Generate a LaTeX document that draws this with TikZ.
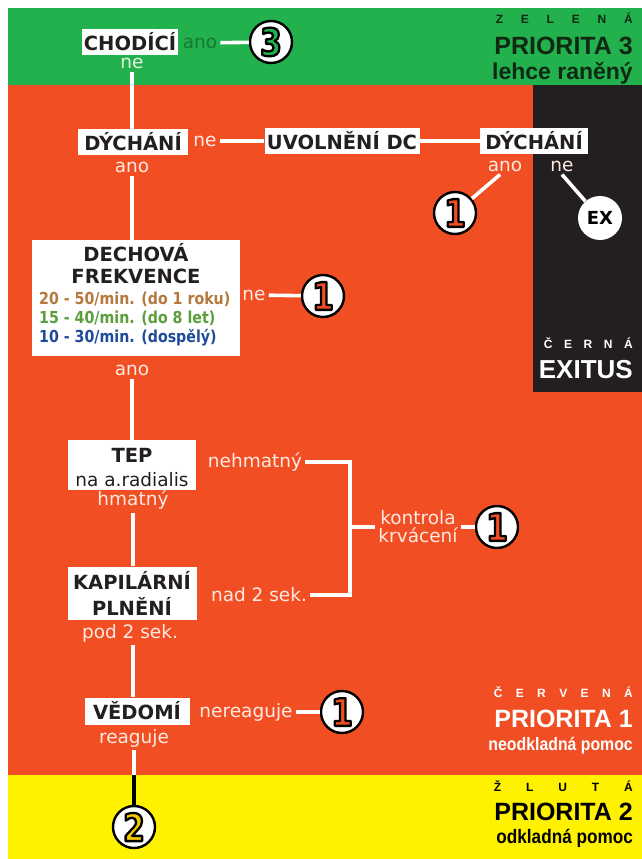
\documentclass[tikz,border=0pt]{standalone}
\usepackage{fontspec}
\setmainfont{DejaVu Sans}
\newfontfamily\condf[FakeStretch=0.86]{DejaVu Sans}
\newfontfamily\digf[FakeStretch=0.82]{DejaVu Sans}
\newfontfamily\arlf{Liberation Sans}
\newfontfamily\narf[FakeStretch=0.88]{Liberation Sans}
\definecolor{zel}{RGB}{34,177,76}
\definecolor{cerv}{RGB}{241,78,35}
\definecolor{cern}{RGB}{35,31,32}
\definecolor{zlu}{RGB}{255,242,0}
\definecolor{boxc}{RGB}{35,31,32}
\definecolor{labc}{RGB}{255,234,226}
\definecolor{anoz}{RGB}{20,122,52}
\definecolor{nez}{RGB}{226,244,226}
\definecolor{zdark}{RGB}{16,40,20}
\definecolor{fa}{RGB}{181,121,61}
\definecolor{fb}{RGB}{91,158,60}
\definecolor{fc}{RGB}{30,76,154}
\definecolor{dig2}{RGB}{245,200,0}
\newcommand\digit[2]{\textcolor{#1}{\special{pdf:literal direct 2 Tr 2.3 w 1 j 0 0 0 RG}#2\special{pdf:literal direct 0 Tr}}}
\newcommand\spreadtxt[2]{\makebox[#1]{#2}}
\tikzset{
  box/.style={fill=white, text=boxc, font=\fontsize{19.5}{21}\selectfont\bfseries, inner sep=0pt, minimum height=26pt},
  boxt/.style={text=boxc, font=\fontsize{19.5}{21}\selectfont\bfseries, inner sep=0pt},
  boxr/.style={text=boxc, font=\fontsize{18.5}{20}\selectfont, inner sep=0pt},
  lab/.style={text=labc, font=\fontsize{18.5}{17}\selectfont, inner sep=3pt},
  fr/.style={font=\condf\bfseries\fontsize{16.5}{18}\selectfont, inner sep=0pt, anchor=west},
  circ/.style={circle, fill=white, draw=black, line width=2.4pt, minimum size=42pt, inner sep=0pt, font=\digf\bfseries\fontsize{38}{38}\selectfont},
  exc/.style={circle, fill=white, minimum size=44pt, inner sep=0pt, text=black, font=\fontsize{18}{18}\selectfont\bfseries},
  con/.style={draw=white, line width=3.6pt},
  conb/.style={draw=black, line width=3.6pt},
  sp/.style={font=\arlf\bfseries\fontsize{12}{12}\selectfont, inner sep=0pt, anchor=east},
  pri/.style={font=\arlf\bfseries\fontsize{25}{25}\selectfont, inner sep=0pt, anchor=east},
  sub/.style={font=\arlf\bfseries\fontsize{23}{23}\selectfont, inner sep=0pt, anchor=east},
}
\begin{document}
\begin{tikzpicture}[x=1pt,y=-1pt]
\useasboundingbox (0,0) rectangle (642,859);
\fill[white] (0,0) rectangle (642,859);
\fill[zel] (8,8) rectangle (642,85);
\fill[cerv] (8,85) rectangle (642,775);
\fill[cern] (533,85) rectangle (642,392);
\fill[zlu] (8,775) rectangle (642,859);

% right legends
\node[sp, text=zdark] (zl) at (633,18) {\spreadtxt{137pt}{Z\hfill E\hfill L\hfill E\hfill N\hfill Á}};
\node[pri, text=zdark] (p3) at (633,46) {PRIORITA 3};
\node[sub, text=zdark] (p3s) at (633,73) {lehce raněný};
\node[sp, text=white] (cn) at (633,343) {\spreadtxt{89pt}{Č\hfill E\hfill R\hfill N\hfill Á}};
\node[pri, text=white, font=\arlf\bfseries\fontsize{26}{26}\selectfont] (ex) at (633,370) {EXITUS};
\node[sp, text=white] (cv) at (633,692) {\spreadtxt{139pt}{Č\hfill E\hfill R\hfill V\hfill E\hfill N\hfill Á}};
\node[pri, text=white] (p1) at (633,719) {PRIORITA 1};
\node[sp, font=\narf\bfseries\fontsize{18}{18}\selectfont, text=white] (p1s) at (633,746) {neodkladná pomoc};
\node[sp, text=black] (zlt) at (633,786) {\spreadtxt{139pt}{Ž\hfill L\hfill U\hfill T\hfill Á}};
\node[pri, text=black] (p2) at (633,812) {PRIORITA 2};
\node[sp, font=\narf\bfseries\fontsize{19.5}{19.5}\selectfont, text=black] (p2s) at (633,838) {odkladná pomoc};

% CHODICI
\node[box, minimum width=96pt] (chod) at (130,42) {CHODÍCÍ};
\node[lab, text=anoz] (ano1) at (200,43) {ano};
\node[circ] (c3) at (271,42) {\digit{zel}{3}};
\draw[con] (ano1) -- (c3);
\node[lab, text=nez] (ne1) at (132,63) {ne};

% DYCHANI
\node[box, minimum width=110pt] (dych1) at (133,142) {DÝCHÁNÍ};
\draw[con] (ne1.south) -- (ne1.south |- dych1.north);
\node[lab] (ne2) at (205,141) {ne};
\node[box, minimum width=155pt] (uvol) at (342,141) {UVOLNĚNÍ DC};
\node[box, minimum width=108pt] (dych2) at (534,141) {DÝCHÁNÍ};
\draw[con] (ne2) -- (uvol);
\draw[con] (uvol) -- (dych2);
\node[lab] (ano2) at (505,166) {ano};
\node[lab] (ne3) at (562,166) {ne};
\node[circ] (c1a) at (455,213) {\digit{cerv}{1}};
\node[exc] (exn) at (600,218) {EX};
\draw[con] (ano2.240) -- (c1a);
\draw[con] (ne3.south) -- (exn);
\node[lab] (ano3) at (132,167) {ano};

% DECHOVA FREKVENCE
\node[box, minimum width=208pt, minimum height=116pt] (dech) at (136,298) {};
\draw[con] (ano3.south) -- (ano3.south |- dech.north);
\node[boxt] (dech1) at (136,253) {DECHOVÁ};
\node[boxt] (dech2) at (136,276) {FREKVENCE};
\node[fr, text=fa] (f1) at (39,299) {20 - 50/min. (do 1 roku)};
\node[fr, text=fb] (f2) at (39,318) {15 - 40/min. (do 8 let)};
\node[fr, text=fc] (f3) at (39,338) {10 - 30/min. (dospělý)};
\node[lab] (ne4) at (254,295) {ne};
\node[circ] (c1b) at (323,296) {\digit{cerv}{1}};
\draw[con] (ne4) -- (c1b);
\node[lab] (ano4) at (132,370) {ano};

% TEP
\node[box, minimum width=128pt, minimum height=50pt] (tep) at (132,465) {};
\node[boxt] (tep1) at (132,455) {TEP};
\node[boxr] (tep2) at (132,480) {na a.radialis};
\draw[con] (ano4.south) -- (ano4.south |- tep.north);
\node[lab] (nehm) at (255,462) {nehmatný};
\node[lab] (hmat) at (133,500) {hmatný};

% KAPILARNI
\node[box, minimum width=129pt, minimum height=53pt] (kap) at (132,593) {};
\node[boxt] (kap1) at (132,580) {KAPILÁRNÍ};
\node[boxt] (kap2) at (132,606) {PLNĚNÍ};
\draw[con] (hmat.south) -- (hmat.south |- kap.north);
\node[lab] (nad) at (259,595) {nad 2 sek.};
\coordinate (br1) at (350,462);
\coordinate (br2) at (350,595);
\coordinate (brm) at (350,527);
\draw[con] (nehm) -- (br1) -- (br2) -- (nad);
\node[lab, align=center, font=\fontsize{18.5}{18}\selectfont] (kontr) at (418,527) {kontrola\\krvácení};
\node[circ] (c1c) at (497,527) {\digit{cerv}{1}};
\draw[con] (brm) -- (kontr);
\draw[con] (kontr) -- (c1c);
\node[lab] (pod) at (130,633) {pod 2 sek.};

% VEDOMI
\node[box, minimum width=105pt, minimum height=27pt] (ved) at (137,711) {VĚDOMÍ};
\draw[con] (pod.south -| 133,0) -- (133,0 |- ved.north);
\node[lab] (nere) at (246,712) {nereaguje};
\node[circ] (c1d) at (342,712) {\digit{cerv}{1}};
\draw[con] (nere) -- (c1d);
\node[lab] (reag) at (134,738) {reaguje};
\node[circ] (c2) at (134,827) {\digit{dig2}{2}};
\coordinate (yb) at (134,775);
\draw[con] (reag.south) -- (yb);
\draw[conb] (yb) -- (c2);
\end{tikzpicture}
\end{document}
